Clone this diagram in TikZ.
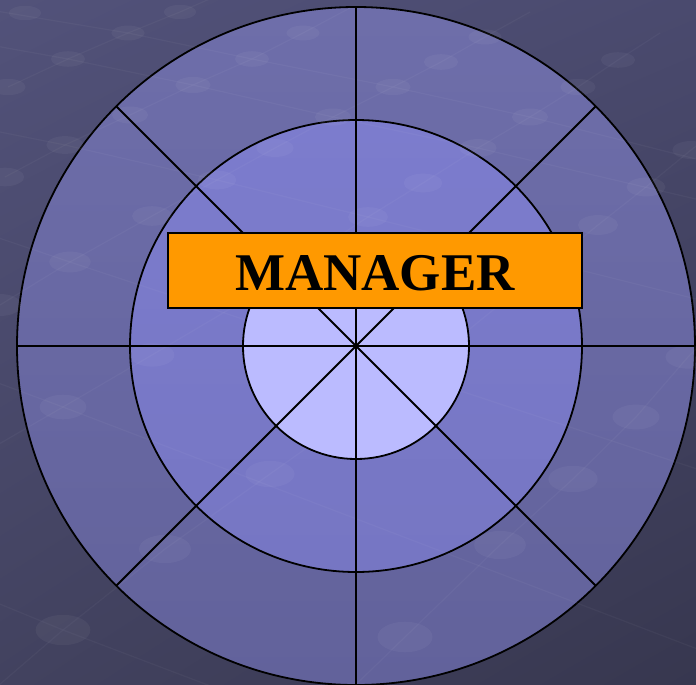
\documentclass[tikz,border=0pt]{standalone}
\usepackage{fontspec}
\setmainfont{Liberation Serif}
\usetikzlibrary{shadings}
\definecolor{bgUL}{HTML}{52527A}
\definecolor{bgUR}{HTML}{4A4A6E}
\definecolor{bgLL}{HTML}{42425F}
\definecolor{bgLR}{HTML}{37374F}
\definecolor{outerTop}{HTML}{6E6EAA}
\definecolor{outerBot}{HTML}{62629B}
\definecolor{midTop}{HTML}{7C7CCD}
\definecolor{midBot}{HTML}{7676C3}
\definecolor{innerFill}{HTML}{BBBBFF}
\definecolor{boxFill}{HTML}{FF9900}
\begin{document}
\begin{tikzpicture}[x=1pt,y=-1pt,
  ring/.style={circle, draw=black, line width=1.8pt, inner sep=0pt, outer sep=0pt},
  spoke/.style={draw=black, line width=1.8pt},
  dotmark/.style={fill=white, fill opacity=0.045},
  gridline/.style={draw=white, draw opacity=0.035, line width=1.2pt},
  titlebox/.style={draw=black, line width=1.8pt, fill=boxFill, inner sep=0pt,
    minimum width=414pt, minimum height=75pt, text height=40pt, text depth=0pt,
    font=\fontsize{53}{60}\selectfont\bfseries}]
\useasboundingbox (0,0) rectangle (696,685);
% background
\shade[upper left=bgUL, upper right=bgUR, lower left=bgLL, lower right=bgLR]
  (0,0) rectangle (696,685);
% rings
\node[ring, minimum size=678pt, top color=outerTop, bottom color=outerBot] (outer) at (356,346) {};
\node[ring, minimum size=452pt, top color=midTop, bottom color=midBot] (middle) at (356,346) {};
% faint background pattern
\begin{scope}
\clip (0,0) rectangle (696,685);
\draw[gridline] (8,87) -- (68,59) -- (128,33) -- (180,12) -- (230,-10);
\draw[gridline] (5,177) -- (65,145) -- (130,115) -- (193,85) -- (252,59) -- (303,33) -- (350,8);
\draw[gridline] (0,305) -- (70,262) -- (152,216) -- (217,180) -- (275,148) -- (333,117) -- (393,87) -- (441,62) -- (485,37) -- (530,12);
\draw[gridline] (-20,455) -- (63,407) -- (152,355) -- (240,303) -- (310,255) -- (368,217) -- (423,183) -- (478,148) -- (530,117) -- (578,87) -- (618,60) -- (660,33);
\draw[gridline] (-30,710) -- (63,630) -- (165,549) -- (270,474) -- (360,410) -- (450,345) -- (530,280) -- (598,225) -- (646,187) -- (691,150) -- (720,128);
\draw[gridline] (340,700) -- (405,637) -- (500,545) -- (573,479) -- (636,417) -- (688,357) -- (720,325);
\draw[gridline] (-10,10) -- (128,33) -- (252,59) -- (393,87) -- (530,117) -- (700,160);
\draw[gridline] (-10,45) -- (68,59) -- (193,85) -- (333,117) -- (478,148) -- (700,200);
\draw[gridline] (-10,130) -- (65,145) -- (217,180) -- (368,217) -- (700,300);
\draw[gridline] (-10,235) -- (70,262) -- (700,470);
\draw[gridline] (-10,380) -- (63,407) -- (700,650);
\draw[gridline] (-10,600) -- (63,630) -- (300,720);
\foreach \px/\py in {25/13,180/12,128/33,68/59,8/87,303/33,252/59,193/85,130/115,65/145,5/177,
  333/117,275/148,217/180,152/216,70/262,0/305,485/37,441/62,393/87,618/60,578/87,530/117,
  478/148,423/183,368/217,691/150,646/187,598/225,152/355,63/407,270/474,165/549,63/630,
  688/357,636/417,573/479,500/545,405/637}
{
  \pgfmathsetmacro{\rx}{16+\py*0.018}
  \pgfmathsetmacro{\ry}{7+\py*0.013}
  \fill[dotmark] (\px,\py) ellipse [x radius=\rx pt, y radius=\ry pt];
}
\end{scope}
% inner circle
\node[ring, minimum size=226pt, fill=innerFill] (inner) at (356,346) {};
% spokes
\draw[spoke] (outer.north) -- (outer.south);
\draw[spoke] (outer.west) -- (outer.east);
\draw[spoke] (outer.45) -- (outer.225);
\draw[spoke] (outer.135) -- (outer.315);
% title box
\node[titlebox] (mgr) at (375,270.5) {MANAGER};
\end{tikzpicture}
\end{document}
